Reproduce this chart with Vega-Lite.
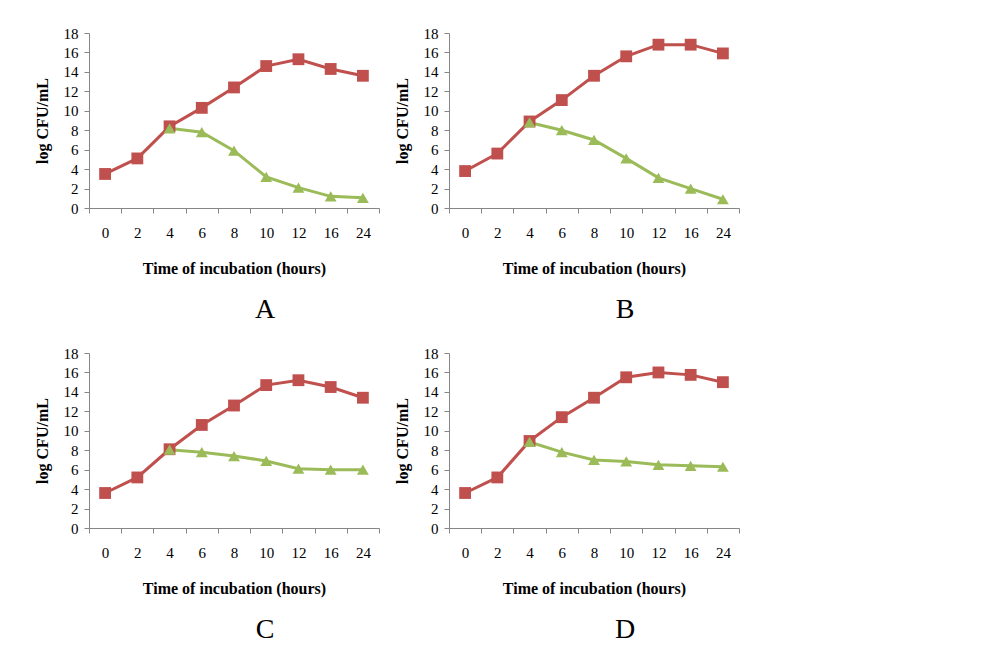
{
  "$schema": "https://vega.github.io/schema/vega-lite/v6.json",
  "padding": {"left": 34, "top": 26, "right": 5, "bottom": 5},
  "data": {"values": [
    {"panel": "A", "group": "Control", "time": 0, "value": 3.5},
    {"panel": "A", "group": "Control", "time": 2, "value": 5.1},
    {"panel": "A", "group": "Control", "time": 4, "value": 8.4},
    {"panel": "A", "group": "Control", "time": 6, "value": 10.3},
    {"panel": "A", "group": "Control", "time": 8, "value": 12.4},
    {"panel": "A", "group": "Control", "time": 10, "value": 14.6},
    {"panel": "A", "group": "Control", "time": 12, "value": 15.3},
    {"panel": "A", "group": "Control", "time": 16, "value": 14.3},
    {"panel": "A", "group": "Control", "time": 24, "value": 13.6},
    {"panel": "A", "group": "Treated", "time": 4, "value": 8.2},
    {"panel": "A", "group": "Treated", "time": 6, "value": 7.8},
    {"panel": "A", "group": "Treated", "time": 8, "value": 5.9},
    {"panel": "A", "group": "Treated", "time": 10, "value": 3.2},
    {"panel": "A", "group": "Treated", "time": 12, "value": 2.1},
    {"panel": "A", "group": "Treated", "time": 16, "value": 1.2},
    {"panel": "A", "group": "Treated", "time": 24, "value": 1.05},
    {"panel": "B", "group": "Control", "time": 0, "value": 3.8},
    {"panel": "B", "group": "Control", "time": 2, "value": 5.6},
    {"panel": "B", "group": "Control", "time": 4, "value": 8.9},
    {"panel": "B", "group": "Control", "time": 6, "value": 11.1},
    {"panel": "B", "group": "Control", "time": 8, "value": 13.6},
    {"panel": "B", "group": "Control", "time": 10, "value": 15.6},
    {"panel": "B", "group": "Control", "time": 12, "value": 16.8},
    {"panel": "B", "group": "Control", "time": 16, "value": 16.8},
    {"panel": "B", "group": "Control", "time": 24, "value": 15.9},
    {"panel": "B", "group": "Treated", "time": 4, "value": 8.8},
    {"panel": "B", "group": "Treated", "time": 6, "value": 8.0},
    {"panel": "B", "group": "Treated", "time": 8, "value": 7.0},
    {"panel": "B", "group": "Treated", "time": 10, "value": 5.1},
    {"panel": "B", "group": "Treated", "time": 12, "value": 3.1},
    {"panel": "B", "group": "Treated", "time": 16, "value": 2.0},
    {"panel": "B", "group": "Treated", "time": 24, "value": 0.9},
    {"panel": "C", "group": "Control", "time": 0, "value": 3.6},
    {"panel": "C", "group": "Control", "time": 2, "value": 5.2},
    {"panel": "C", "group": "Control", "time": 4, "value": 8.1},
    {"panel": "C", "group": "Control", "time": 6, "value": 10.6},
    {"panel": "C", "group": "Control", "time": 8, "value": 12.6},
    {"panel": "C", "group": "Control", "time": 10, "value": 14.7},
    {"panel": "C", "group": "Control", "time": 12, "value": 15.2},
    {"panel": "C", "group": "Control", "time": 16, "value": 14.5},
    {"panel": "C", "group": "Control", "time": 24, "value": 13.4},
    {"panel": "C", "group": "Treated", "time": 4, "value": 8.05},
    {"panel": "C", "group": "Treated", "time": 6, "value": 7.8},
    {"panel": "C", "group": "Treated", "time": 8, "value": 7.4},
    {"panel": "C", "group": "Treated", "time": 10, "value": 6.9},
    {"panel": "C", "group": "Treated", "time": 12, "value": 6.1},
    {"panel": "C", "group": "Treated", "time": 16, "value": 6.0},
    {"panel": "C", "group": "Treated", "time": 24, "value": 6.0},
    {"panel": "D", "group": "Control", "time": 0, "value": 3.6},
    {"panel": "D", "group": "Control", "time": 2, "value": 5.2},
    {"panel": "D", "group": "Control", "time": 4, "value": 8.95},
    {"panel": "D", "group": "Control", "time": 6, "value": 11.4},
    {"panel": "D", "group": "Control", "time": 8, "value": 13.4},
    {"panel": "D", "group": "Control", "time": 10, "value": 15.5},
    {"panel": "D", "group": "Control", "time": 12, "value": 16.0},
    {"panel": "D", "group": "Control", "time": 16, "value": 15.75},
    {"panel": "D", "group": "Control", "time": 24, "value": 15.0},
    {"panel": "D", "group": "Treated", "time": 4, "value": 8.85},
    {"panel": "D", "group": "Treated", "time": 6, "value": 7.8},
    {"panel": "D", "group": "Treated", "time": 8, "value": 7.0},
    {"panel": "D", "group": "Treated", "time": 10, "value": 6.85},
    {"panel": "D", "group": "Treated", "time": 12, "value": 6.5},
    {"panel": "D", "group": "Treated", "time": 16, "value": 6.4},
    {"panel": "D", "group": "Treated", "time": 24, "value": 6.3}
  ]},
  "columns": 2,
  "spacing": {"row": 22, "column": 14},
  "concat": [
    {
      "width": 290, "height": 175,
      "view": {"stroke": null},
      "transform": [{"filter": "datum.panel === 'A'"}],
      "title": {"text": "A", "orient": "bottom", "font": "Liberation Serif", "fontSize": 28, "fontWeight": "normal", "color": "#000000", "offset": 20, "anchor": "middle", "dx": 31},
      "encoding": {
        "x": {"field": "time", "type": "ordinal", "scale": {"type": "band", "paddingInner": 0, "paddingOuter": 0}, "axis": {"title": "Time of incubation (hours)", "labelAngle": 0, "tickBand": "extent", "grid": false, "domainColor": "#868686", "tickColor": "#868686", "tickSize": 5, "labelFont": "Liberation Serif", "labelFontSize": 15, "labelColor": "#000000", "labelPadding": 12, "titleFont": "Liberation Serif", "titleFontSize": 16, "titleFontWeight": "bold", "titleColor": "#000000", "titlePadding": 20}},
        "y": {"field": "value", "type": "quantitative", "scale": {"domain": [0, 18], "nice": false}, "axis": {"title": "log CFU/mL", "values": [0, 2, 4, 6, 8, 10, 12, 14, 16, 18], "grid": false, "domainColor": "#868686", "tickColor": "#868686", "tickSize": 5, "labelFont": "Liberation Serif", "labelFontSize": 15, "labelColor": "#000000", "labelPadding": 6, "titleFont": "Liberation Serif", "titleFontSize": 16, "titleFontWeight": "bold", "titleColor": "#000000", "titlePadding": 13}}
      },
      "layer": [
        {"mark": {"type": "line", "strokeWidth": 3}, "encoding": {"color": {"field": "group", "type": "nominal", "scale": {"domain": ["Control", "Treated"], "range": ["#C0504D", "#9BBB59"]}, "legend": null}}},
        {"mark": {"type": "point", "filled": true, "size": 140, "opacity": 1},
         "encoding": {
           "fill": {"field": "group", "type": "nominal", "scale": {"domain": ["Control", "Treated"], "range": ["#C0504D", "#9BBB59"]}, "legend": {"title": null, "orient": "none", "legendX": 327, "legendY": 99, "symbolSize": 70, "symbolOpacity": 1, "labelOffset": 16, "rowPadding": 13, "labelFont": "Liberation Serif", "labelFontSize": 16, "labelColor": "#000000"}},
           "shape": {"field": "group", "type": "nominal", "scale": {"domain": ["Control", "Treated"], "range": ["square", "triangle-up"]}, "legend": {"title": null, "orient": "none", "legendX": 327, "legendY": 99, "symbolSize": 70, "symbolOpacity": 1, "labelOffset": 16, "rowPadding": 13, "labelFont": "Liberation Serif", "labelFontSize": 16, "labelColor": "#000000"}}
         }}
      ]
    },
    {
      "width": 290, "height": 175,
      "view": {"stroke": null},
      "transform": [{"filter": "datum.panel === 'B'"}],
      "title": {"text": "B", "orient": "bottom", "font": "Liberation Serif", "fontSize": 28, "fontWeight": "normal", "color": "#000000", "offset": 20, "anchor": "middle", "dx": 31},
      "encoding": {
        "x": {"field": "time", "type": "ordinal", "scale": {"type": "band", "paddingInner": 0, "paddingOuter": 0}, "axis": {"title": "Time of incubation (hours)", "labelAngle": 0, "tickBand": "extent", "grid": false, "domainColor": "#868686", "tickColor": "#868686", "tickSize": 5, "labelFont": "Liberation Serif", "labelFontSize": 15, "labelColor": "#000000", "labelPadding": 12, "titleFont": "Liberation Serif", "titleFontSize": 16, "titleFontWeight": "bold", "titleColor": "#000000", "titlePadding": 20}},
        "y": {"field": "value", "type": "quantitative", "scale": {"domain": [0, 18], "nice": false}, "axis": {"title": "log CFU/mL", "values": [0, 2, 4, 6, 8, 10, 12, 14, 16, 18], "grid": false, "domainColor": "#868686", "tickColor": "#868686", "tickSize": 5, "labelFont": "Liberation Serif", "labelFontSize": 15, "labelColor": "#000000", "labelPadding": 6, "titleFont": "Liberation Serif", "titleFontSize": 16, "titleFontWeight": "bold", "titleColor": "#000000", "titlePadding": 13}}
      },
      "layer": [
        {"mark": {"type": "line", "strokeWidth": 3}, "encoding": {"color": {"field": "group", "type": "nominal", "scale": {"domain": ["Control", "Treated"], "range": ["#C0504D", "#9BBB59"]}, "legend": null}}},
        {"mark": {"type": "point", "filled": true, "size": 140, "opacity": 1},
         "encoding": {
           "fill": {"field": "group", "type": "nominal", "scale": {"domain": ["Control", "Treated"], "range": ["#C0504D", "#9BBB59"]}, "legend": {"title": null, "orient": "none", "legendX": 327, "legendY": 99, "symbolSize": 70, "symbolOpacity": 1, "labelOffset": 16, "rowPadding": 13, "labelFont": "Liberation Serif", "labelFontSize": 16, "labelColor": "#000000"}},
           "shape": {"field": "group", "type": "nominal", "scale": {"domain": ["Control", "Treated"], "range": ["square", "triangle-up"]}, "legend": {"title": null, "orient": "none", "legendX": 327, "legendY": 99, "symbolSize": 70, "symbolOpacity": 1, "labelOffset": 16, "rowPadding": 13, "labelFont": "Liberation Serif", "labelFontSize": 16, "labelColor": "#000000"}}
         }}
      ]
    },
    {
      "width": 290, "height": 175,
      "view": {"stroke": null},
      "transform": [{"filter": "datum.panel === 'C'"}],
      "title": {"text": "C", "orient": "bottom", "font": "Liberation Serif", "fontSize": 28, "fontWeight": "normal", "color": "#000000", "offset": 20, "anchor": "middle", "dx": 31},
      "encoding": {
        "x": {"field": "time", "type": "ordinal", "scale": {"type": "band", "paddingInner": 0, "paddingOuter": 0}, "axis": {"title": "Time of incubation (hours)", "labelAngle": 0, "tickBand": "extent", "grid": false, "domainColor": "#868686", "tickColor": "#868686", "tickSize": 5, "labelFont": "Liberation Serif", "labelFontSize": 15, "labelColor": "#000000", "labelPadding": 12, "titleFont": "Liberation Serif", "titleFontSize": 16, "titleFontWeight": "bold", "titleColor": "#000000", "titlePadding": 20}},
        "y": {"field": "value", "type": "quantitative", "scale": {"domain": [0, 18], "nice": false}, "axis": {"title": "log CFU/mL", "values": [0, 2, 4, 6, 8, 10, 12, 14, 16, 18], "grid": false, "domainColor": "#868686", "tickColor": "#868686", "tickSize": 5, "labelFont": "Liberation Serif", "labelFontSize": 15, "labelColor": "#000000", "labelPadding": 6, "titleFont": "Liberation Serif", "titleFontSize": 16, "titleFontWeight": "bold", "titleColor": "#000000", "titlePadding": 13}}
      },
      "layer": [
        {"mark": {"type": "line", "strokeWidth": 3}, "encoding": {"color": {"field": "group", "type": "nominal", "scale": {"domain": ["Control", "Treated"], "range": ["#C0504D", "#9BBB59"]}, "legend": null}}},
        {"mark": {"type": "point", "filled": true, "size": 140, "opacity": 1},
         "encoding": {
           "fill": {"field": "group", "type": "nominal", "scale": {"domain": ["Control", "Treated"], "range": ["#C0504D", "#9BBB59"]}, "legend": {"title": null, "orient": "none", "legendX": 327, "legendY": 99, "symbolSize": 70, "symbolOpacity": 1, "labelOffset": 16, "rowPadding": 13, "labelFont": "Liberation Serif", "labelFontSize": 16, "labelColor": "#000000"}},
           "shape": {"field": "group", "type": "nominal", "scale": {"domain": ["Control", "Treated"], "range": ["square", "triangle-up"]}, "legend": {"title": null, "orient": "none", "legendX": 327, "legendY": 99, "symbolSize": 70, "symbolOpacity": 1, "labelOffset": 16, "rowPadding": 13, "labelFont": "Liberation Serif", "labelFontSize": 16, "labelColor": "#000000"}}
         }}
      ]
    },
    {
      "width": 290, "height": 175,
      "view": {"stroke": null},
      "transform": [{"filter": "datum.panel === 'D'"}],
      "title": {"text": "D", "orient": "bottom", "font": "Liberation Serif", "fontSize": 28, "fontWeight": "normal", "color": "#000000", "offset": 20, "anchor": "middle", "dx": 31},
      "encoding": {
        "x": {"field": "time", "type": "ordinal", "scale": {"type": "band", "paddingInner": 0, "paddingOuter": 0}, "axis": {"title": "Time of incubation (hours)", "labelAngle": 0, "tickBand": "extent", "grid": false, "domainColor": "#868686", "tickColor": "#868686", "tickSize": 5, "labelFont": "Liberation Serif", "labelFontSize": 15, "labelColor": "#000000", "labelPadding": 12, "titleFont": "Liberation Serif", "titleFontSize": 16, "titleFontWeight": "bold", "titleColor": "#000000", "titlePadding": 20}},
        "y": {"field": "value", "type": "quantitative", "scale": {"domain": [0, 18], "nice": false}, "axis": {"title": "log CFU/mL", "values": [0, 2, 4, 6, 8, 10, 12, 14, 16, 18], "grid": false, "domainColor": "#868686", "tickColor": "#868686", "tickSize": 5, "labelFont": "Liberation Serif", "labelFontSize": 15, "labelColor": "#000000", "labelPadding": 6, "titleFont": "Liberation Serif", "titleFontSize": 16, "titleFontWeight": "bold", "titleColor": "#000000", "titlePadding": 13}}
      },
      "layer": [
        {"mark": {"type": "line", "strokeWidth": 3}, "encoding": {"color": {"field": "group", "type": "nominal", "scale": {"domain": ["Control", "Treated"], "range": ["#C0504D", "#9BBB59"]}, "legend": null}}},
        {"mark": {"type": "point", "filled": true, "size": 140, "opacity": 1},
         "encoding": {
           "fill": {"field": "group", "type": "nominal", "scale": {"domain": ["Control", "Treated"], "range": ["#C0504D", "#9BBB59"]}, "legend": {"title": null, "orient": "none", "legendX": 327, "legendY": 99, "symbolSize": 70, "symbolOpacity": 1, "labelOffset": 16, "rowPadding": 13, "labelFont": "Liberation Serif", "labelFontSize": 16, "labelColor": "#000000"}},
           "shape": {"field": "group", "type": "nominal", "scale": {"domain": ["Control", "Treated"], "range": ["square", "triangle-up"]}, "legend": {"title": null, "orient": "none", "legendX": 327, "legendY": 99, "symbolSize": 70, "symbolOpacity": 1, "labelOffset": 16, "rowPadding": 13, "labelFont": "Liberation Serif", "labelFontSize": 16, "labelColor": "#000000"}}
         }}
      ]
    }
  ],
  "resolve": {
    "scale": {"color": "independent", "fill": "independent", "shape": "independent"},
    "legend": {"color": "independent", "fill": "independent", "shape": "independent"}
  }
}
